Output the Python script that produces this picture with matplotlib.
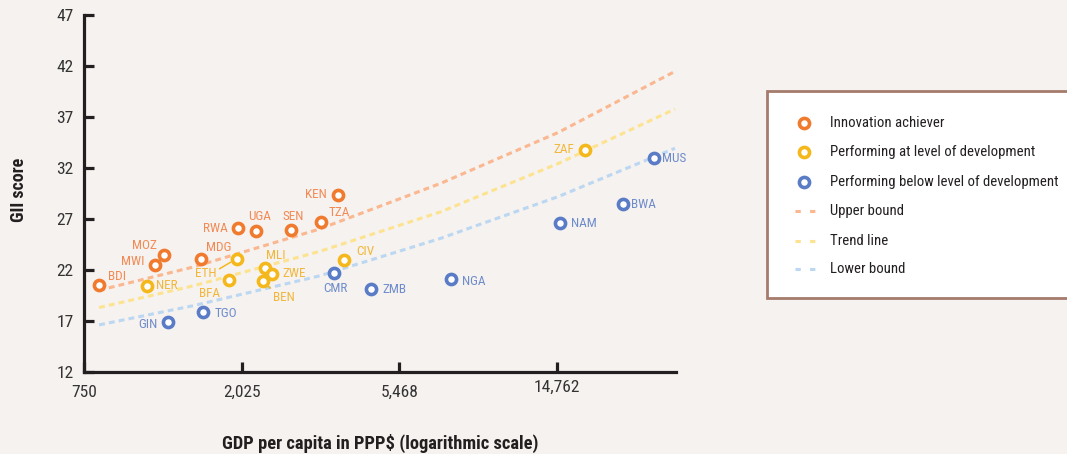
import numpy as np
import matplotlib.pyplot as plt
from matplotlib.lines import Line2D
from matplotlib.patches import Rectangle
from matplotlib.transforms import ScaledTranslation

plt.rcParams['font.family'] = ['Roboto Condensed', 'Liberation Sans', 'DejaVu Sans']
plt.rcParams['lines.scale_dashes'] = False

# --- data (GDP per capita PPP$, GII score) ---
achiever_codes = ['BDI', 'MWI', 'MOZ', 'MDG', 'RWA', 'UGA', 'SEN', 'TZA', 'KEN']
achiever_gdp = [824, 1171, 1244, 1565, 1976, 2218, 2765, 3334, 3725]
achiever_gii = [20.5, 22.5, 23.5, 23.1, 26.1, 25.8, 25.9, 26.7, 29.4]

at_codes = ['NER', 'BFA', 'ETH', 'BEN', 'MLI', 'ZWE', 'CIV', 'ZAF']
at_gdp = [1118, 1874, 1963, 2317, 2347, 2458, 3861, 17670]
at_gii = [20.4, 21.0, 23.1, 20.9, 22.2, 21.6, 23.0, 33.8]

below_codes = ['GIN', 'TGO', 'CMR', 'ZMB', 'NGA', 'NAM', 'BWA', 'MUS']
below_gdp = [1271, 1591, 3632, 4568, 7580, 15070, 22450, 27290]
below_gii = [16.9, 17.9, 21.7, 20.1, 21.1, 26.6, 28.5, 33.0]

curve_gdp = [825, 1500, 3300, 7100, 14900, 31100]
upper_gii = [20.0, 22.3, 26.0, 30.5, 35.5, 41.5]
trend_gii = [18.3, 20.45, 23.8, 27.7, 32.45, 37.8]
lower_gii = [16.6, 18.5, 21.4, 25.1, 29.2, 33.95]

x_ticks = [750, 2025, 5468, 14762]
y_ticks = [12, 17, 22, 27, 32, 37, 42, 47]

legend_labels = ['Innovation achiever', 'Performing at level of development',
                 'Performing below level of development', 'Upper bound',
                 'Trend line', 'Lower bound']

# label placement (pixel offsets from the marker, + is up) and alignment
label_pos = {
    'BDI': (9, 9, 'left'), 'MWI': (-10, 3, 'right'), 'MOZ': (-7, 9, 'right'),
    'MDG': (5, 11, 'left'), 'RWA': (-10, 0, 'right'), 'UGA': (4, 15, 'center'),
    'SEN': (2, 14, 'center'), 'TZA': (8, 10, 'left'), 'KEN': (-12, 0, 'right'),
    'NER': (9, 1, 'left'), 'BFA': (-9, -13, 'right'), 'ETH': (-20, -15, 'right'),
    'BEN': (10, -16, 'left'), 'MLI': (1, 12, 'left'), 'ZWE': (10, 0, 'left'),
    'CIV': (12, 8, 'left'), 'ZAF': (-11, 0, 'right'),
    'GIN': (-10, -3, 'right'), 'TGO': (11, -2, 'left'), 'CMR': (1, -16, 'center'),
    'ZMB': (12, 0, 'left'), 'NGA': (11, -2, 'left'), 'NAM': (11, 0, 'left'),
    'BWA': (8, -1, 'left'), 'MUS': (8, -1, 'left'),
}
connected = {'ETH': (1, 0.75), 'BEN': (0.05, 0.9)}

BG = '#f5f2ef'
ORANGE, ORANGE_TXT, ORANGE_LN = '#f07a2e', '#f28a55', '#fbb78f'
YELLOW, YELLOW_TXT, YELLOW_LN = '#f5b81c', '#f2b73a', '#fde38f'
BLUE, BLUE_TXT, BLUE_LN = '#5a7bc6', '#6f8ccb', '#bcd7f2'
DARK = '#231f20'
MS, MEW = 7.3, 2.6

W, H = 1067, 454
fig = plt.figure(figsize=(W / 100, H / 100), dpi=100, facecolor=BG)
ax = fig.add_axes([84 / W, 1 - 371.7 / H, 592 / W, 356.3 / H])
ax.set_facecolor(BG)

# bound / trend curves
for vals, col in [(upper_gii, ORANGE_LN), (trend_gii, YELLOW_LN), (lower_gii, BLUE_LN)]:
    ax.plot(curve_gdp, vals, color=col, lw=2.2, dashes=(4.2, 3), zorder=1)

# points and labels
groups = [
    (achiever_codes, achiever_gdp, achiever_gii, ORANGE, ORANGE_TXT),
    (at_codes, at_gdp, at_gii, YELLOW, YELLOW_TXT),
    (below_codes, below_gdp, below_gii, BLUE, BLUE_TXT),
]
for codes, gdp, gii, col, tcol in groups:
    ax.plot(gdp, gii, ls='none', marker='o', ms=MS, mew=MEW, mfc='white',
            mec=col, zorder=3)
    for c, x, y in zip(codes, gdp, gii):
        dx, dy, ha = label_pos[c]
        arrow = None
        if c in connected:
            arrow = dict(arrowstyle='-', color=col, lw=1.1,
                         relpos=connected[c], shrinkA=0, shrinkB=5)
        ax.annotate(c, (x, y), xytext=(dx * 0.72, dy * 0.72),
                    textcoords='offset points', ha=ha, va='center',
                    fontsize=9.5, color=tcol, arrowprops=arrow, zorder=4)

ax.set_xscale('log')
ax.set_xlim(750, 31300)
ax.set_ylim(12, 47)
ax.set_xticks(x_ticks)
ax.set_xticklabels([f'{t:,}' for t in x_ticks])
ax.minorticks_off()
ax.set_yticks(y_ticks)

for s in ['top', 'right']:
    ax.spines[s].set_visible(False)
for s in ['left', 'bottom']:
    ax.spines[s].set_linewidth(2.3)
    ax.spines[s].set_color(DARK)
ax.tick_params(axis='both', direction='in', length=7, width=2.3, color=DARK,
               labelsize=12.5, labelcolor='#333333')
ax.tick_params(axis='y', pad=7.5)
ax.tick_params(axis='x', pad=9.5)

# the 14,762 label sits a little higher in the original
lbl = ax.get_xticklabels()[3]
lbl.set_transform(lbl.get_transform() + ScaledTranslation(0, 4 / 72, fig.dpi_scale_trans))

ax.set_ylabel('GII score', fontsize=13, fontweight='bold', color=DARK)
ax.yaxis.set_label_coords(-0.11, 0.51)
ax.yaxis.label.set_va('center')
ax.set_xlabel('GDP per capita in PPP$ (logarithmic scale)', fontsize=13.3,
              fontweight='bold', color=DARK)
ax.xaxis.set_label_coords(0.5, -0.2)
ax.xaxis.label.set_va('center')

# legend box drawn by hand to match the original layout
fig.add_artist(Rectangle((766.7 / W, 1 - 298 / H), 0.4, 207 / H,
                         transform=fig.transFigure, fc='white', ec='#a57b6b',
                         lw=2, zorder=0))
row_y = [123.3, 151.7, 181.7, 210.7, 240.7, 269.3]
for i, (lab, y) in enumerate(zip(legend_labels, row_y)):
    fy = 1 - y / H
    if i < 3:
        col = [ORANGE, YELLOW, BLUE][i]
        fig.add_artist(Line2D([804 / W], [fy], transform=fig.transFigure,
                              marker='o', ms=MS, mew=MEW, mfc='white', mec=col))
    else:
        col = [ORANGE_LN, YELLOW_LN, BLUE_LN][i - 3]
        fig.add_artist(Line2D([795 / W, 815 / W], [fy, fy], transform=fig.transFigure,
                              color=col, lw=2.2, dashes=(3.8, 6.7)))
    fig.text(830.5 / W, fy, lab, ha='left', va='center', fontsize=10.6, color=DARK)

fig.savefig('out.png', dpi=100, facecolor=BG)
